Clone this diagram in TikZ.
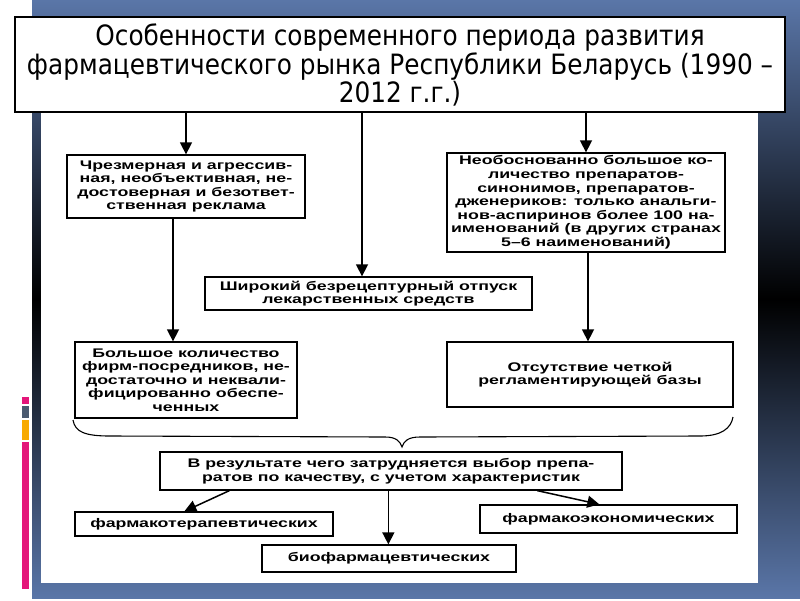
\documentclass[tikz,border=0pt]{standalone}
\usepackage{fontspec}
\usetikzlibrary{arrows.meta,calc}
\newfontfamily\titlefont[FakeStretch=0.885]{DejaVu Sans}
\newfontfamily\scanfont[FakeStretch=1.42]{Liberation Sans}
\definecolor{panelblue}{RGB}{90,118,168}
\definecolor{mpink}{RGB}{228,22,122}
\definecolor{mgray}{RGB}{74,90,112}
\definecolor{morange}{RGB}{248,170,0}
\tikzset{
  scantxt/.style={font=\scanfont\bfseries\fontsize{12.5}{13.6}\selectfont, align=center},
  sbox/.style={scantxt, draw=black, line width=1.3pt, fill=white, inner sep=0pt},
  arr/.style={draw=black, line width=1.5pt, -{Triangle[width=12pt,length=12pt]}}
}
\begin{document}
\begin{tikzpicture}[x=1pt,y=-1pt]
\useasboundingbox (0,0) rectangle (800,600);
\fill[white] (0,0) rectangle (800,600);
\shade[top color=panelblue, bottom color=panelblue, middle color=black] (32,0) rectangle (800,598);
\fill[white] (41,90) rectangle (758,583);
\fill[mpink] (22,397) rectangle (29,404);
\fill[mgray] (22,406) rectangle (29,418);
\fill[morange] (22,420) rectangle (29,440);
\fill[mpink] (22,442) rectangle (29,589);

\node[draw=black, line width=2.5pt, fill=white, minimum width=770pt, minimum height=95pt,
  inner sep=0pt, align=center, font=\titlefont\fontsize{28}{26.5}\selectfont] (title) at (400,64.5)
  {\rule{0pt}{23pt}Особенности современного периода развития\\фармацевтического рынка Республики Беларусь (1990 –\\2012 г.г.)};

\node[sbox, minimum width=238pt, minimum height=63pt] (box1) at (186,186.5)
  {Чрезмерная и агрессив-\\ная, необъективная, не-\\достоверная и безответ-\\ственная реклама};
\node[sbox, minimum width=327pt, minimum height=33pt] (otpusk) at (368.5,293.5)
  {Широкий безрецептурный отпуск\\лекарственных средств};
\node[sbox, minimum width=278pt, minimum height=99pt] (neo) at (586,202.5)
  {Необоснованно большое ко-\\личество препаратов-\\синонимов, препаратов-\\дженериков: только анальги-\\нов-аспиринов более 100 на-\\именований (в других странах\\5–6 наименований)};
\node[sbox, minimum width=222pt, minimum height=76pt] (big) at (186,380)
  {Большое количество\\фирм-посредников, не-\\достаточно и неквали-\\фицированно обеспе-\\ченных};
\node[sbox, minimum width=286pt, minimum height=65pt] (otsut) at (590,374.5)
  {Отсутствие четкой\\регламентирующей базы};
\node[sbox, minimum width=462pt, minimum height=38pt] (result) at (391,471)
  {В результате чего затрудняется выбор препа-\\ратов по качеству, с учетом характеристик};
\node[sbox, minimum width=258pt, minimum height=24pt] (farmter) at (204,524)
  {фармакотерапевтических};
\node[sbox, minimum width=254pt, minimum height=27pt] (bio) at (389,558.5)
  {биофармацевтических};
\node[sbox, minimum width=257pt, minimum height=28pt] (farmeco) at (608.5,519)
  {фармакоэкономических};

\coordinate (mbot) at ([xshift=-6.5pt]otpusk.north);
\draw[arr] (title.south -| box1.north) -- (box1.north);
\draw[arr] (title.south -| mbot) -- (mbot);
\draw[arr] (title.south -| neo.north) -- (neo.north);
\coordinate (bs) at ([xshift=-13pt]box1.south);
\draw[arr] (bs) -- (bs |- big.north);
\coordinate (ns) at ([xshift=2pt]neo.south);
\draw[arr] (ns) -- (ns |- otsut.north);

\coordinate (bl) at (73,420);
\coordinate (br) at (733,417);
\coordinate (bt) at (402,447);
\draw[line width=1.1pt] (bl) .. controls (75,432) and (85,436) .. (110,436) -- (385,437)
  .. controls (396,437) and (400,441) .. (bt)
  .. controls (404,441) and (408,437) .. (420,437) -- (700,436)
  .. controls (722,436) and (731,428) .. (br);

\coordinate (lstart) at ($(result.south west)+(70,0)$);
\coordinate (lend) at ($(farmter.north west)+(110,0)$);
\coordinate (cstart) at ($(result.south west)+(229,0)$);
\coordinate (rstart) at ($(result.south west)+(378,0)$);
\coordinate (rend) at ($(farmeco.north west)+(120,0)$);
\draw[arr] (lstart) -- (lend);
\draw[arr] (cstart) -- (cstart |- bio.north);
\draw[arr] (rstart) -- (rend);
\end{tikzpicture}
\end{document}
